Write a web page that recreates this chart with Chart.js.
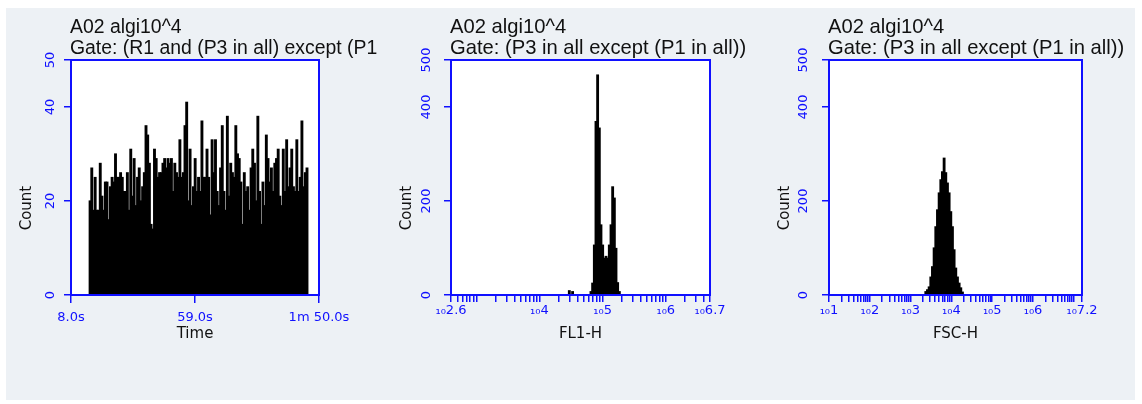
<!DOCTYPE html>
<html>
<head>
<meta charset="utf-8">
<script src="https://cdn.jsdelivr.net/npm/chart.js@4.4.1/dist/chart.umd.min.js"></script>
<style>
body { margin: 0; background: #fff; width: 1142px; height: 404px; position: relative; overflow: hidden; }
#panel { position: absolute; left: 6px; top: 8px; width: 1129px; height: 392px; background: #edf1f5; }
canvas { position: absolute; top: 0; }
</style>
</head>
<body>
<div id="panel">
  <canvas id="c1" width="379" height="392" style="left:0px"></canvas>
  <canvas id="c2" width="378" height="392" style="left:380px"></canvas>
  <canvas id="c3" width="371" height="392" style="left:758px"></canvas>
</div>
<script>
// 时间直方图 (s)
var timeBinStart = 15.5;
var timeBinWidth = 0.697;
var timeCounts = [
    20, 27, 18, 25, 18, 18, 28, 21, 18, 24, 24, 16, 23, 25, 24, 30, 25, 25, 26, 25,
    22, 22, 26, 18, 31, 21, 29, 19, 25, 27, 20, 23, 26, 36, 34, 28, 15, 14, 31, 29,
    25, 26, 26,
    28, 29, 27, 29, 28, 29, 22, 28, 26, 25, 33, 25, 26, 36, 41, 20, 31, 19, 23, 29,
    22, 25, 22, 37, 25, 25, 31, 25, 17, 33, 26, 33, 22, 19, 27, 36, 22, 18, 38, 21,
    28, 26, 25,
    36, 30, 29, 24, 15, 26, 22, 23, 18, 27, 31, 28, 20, 38, 22, 15, 24, 19, 34, 29,
    24, 27, 22, 28, 29, 31, 21, 19, 31, 22, 33, 23, 27, 31, 23, 22, 33, 22, 25, 37,
    23, 26, 27
];
var timeTicks = [8, 59, 110];
var countTicks1 = [0, 20, 40, 50];

// FL1-H (log10)
var fl1Bins = [4.473, 4.525, 4.816, 4.842, 4.869, 4.895, 4.921, 4.948, 4.974, 5.001,
    5.027, 5.054, 5.080, 5.106, 5.133, 5.159, 5.186, 5.212, 5.238, 5.265];
var fl1Counts = [9, 7, 7, 25, 106, 369, 468, 355, 149, 106, 78, 82, 78, 106, 149, 230, 206, 99, 26, 7];
var fl1Labels = [2.6, 4, 5, 6, 6.7];

// FSC-H (log10)
var fscBins = [3.372, 3.413, 3.454, 3.495, 3.535, 3.576, 3.617, 3.658, 3.699, 3.740, 3.780, 3.821,
    3.862, 3.903, 3.944, 3.985, 4.025, 4.066, 4.107, 4.148, 4.189, 4.230, 4.270];
var fscCounts = [7, 11, 17, 38, 60, 100, 145, 181, 217, 245, 262, 291, 260, 238, 217, 177, 145, 96, 57, 38, 25, 15, 6];
var fscLabels = [1, 2, 3, 4, 5, 6, 7.2];

var countTicks = [0, 200, 400, 500];

var BLUE = '#1010ff';
var TICK_FONT = { family: 'DejaVu Sans', size: 13 };

//边框, 标题, Count
var framePlugin = {
    id: 'frame',
    beforeDraw: function (chart) {
        var a = chart.chartArea, ctx = chart.ctx;
        ctx.save();
        ctx.fillStyle = '#fff';
        ctx.fillRect(a.left, a.top, a.right - a.left, a.bottom - a.top);
        ctx.restore();
    },
    afterDraw: function (chart, args, opts) {
        var a = chart.chartArea, ctx = chart.ctx;
        ctx.save();
        ctx.strokeStyle = BLUE;
        ctx.lineWidth = 2;
        ctx.strokeRect(a.left, a.top, a.right - a.left, a.bottom - a.top);

        ctx.fillStyle = '#111';
        ctx.font = opts.titleSize + 'px "Liberation Sans", Arial, sans-serif';
        ctx.textAlign = 'left';
        ctx.textBaseline = 'alphabetic';
        for (var i = 0; i < opts.lines.length; i++) {
            ctx.fillText(opts.lines[i], a.left - 1, 25 + i * 21);
        }

        ctx.translate(a.left - 44, a.top + 0.63 * (a.bottom - a.top));
        ctx.rotate(-Math.PI / 2);
        ctx.font = '15px "DejaVu Sans", sans-serif';
        ctx.textAlign = 'center';
        ctx.textBaseline = 'middle';
        ctx.fillText('Count', 0, 0);
        ctx.restore();
    }
};

function fmtTime(v) {
    if (v < 60) return v.toFixed(1) + 's';
    var m = Math.floor(v / 60);
    return m + 'm ' + (v - m * 60).toFixed(1) + 's';
}

//对数刻度
function logTicks(min, max) {
    var ticks = [{ value: min }];
    for (var d = Math.floor(min); d < max; d++) {
        for (var k = 1; k < 10; k++) {
            var v = d + Math.log10(k);
            if (v > min + 0.01 && v < max - 0.01) ticks.push({ value: v });
        }
    }
    ticks.push({ value: max });
    return ticks;
}

function logLabel(labels) {
    return function (value) {
        for (var i = 0; i < labels.length; i++) {
            if (Math.abs(labels[i] - value) < 1e-6) return '\u2081\u2080' + labels[i];
        }
        return '';
    };
}

function yScale(max, ticks, pad) {
    return {
        type: 'linear',
        min: 0,
        max: max,
        afterBuildTicks: function (s) { s.ticks = ticks.map(function (v) { return { value: v }; }); },
        afterFit: function (s) { s.width = 65; },
        border: { display: false },
        grid: { drawOnChartArea: false, tickLength: 7, color: BLUE, lineWidth: 1.5 },
        ticks: {
            color: BLUE, font: TICK_FONT, minRotation: 90, maxRotation: 90,
            crossAlign: 'center', padding: pad, autoSkip: false
        }
    };
}

function xScale(min, max, buildTicks, tickLen, pad, cb, title) {
    return {
        type: 'linear', min: min, max: max, offset: false,
        afterBuildTicks: buildTicks,
        afterFit: function (s) { s.height = 50; },
        border: { display: false },
        grid: { offset: false, drawOnChartArea: false, tickLength: tickLen, color: BLUE, lineWidth: 1.5 },
        ticks: { color: BLUE, font: TICK_FONT, padding: pad, maxRotation: 0, autoSkip: false, callback: cb },
        title: {
            display: true, text: title, color: '#111',
            font: { family: 'DejaVu Sans', size: 15 },
            padding: { top: 0, bottom: 2 }
        }
    };
}

function makeChart(id, points, xOpts, yOpts, lines, titleSize, padRight) {
    return new Chart(document.getElementById(id), {
        type: 'bar',
        data: {
            datasets: [{
                data: points,
                backgroundColor: '#000',
                borderWidth: 0,
                inflateAmount: 0.6,
                barPercentage: 1,
                categoryPercentage: 1
            }]
        },
        options: {
            responsive: false,
            animation: false,
            layout: { padding: { top: 52, left: 0, right: padRight, bottom: 55 } },
            scales: { x: xOpts, y: yOpts },
            plugins: {
                legend: { display: false },
                tooltip: { enabled: false },
                frame: { lines: lines, titleSize: titleSize }
            }
        },
        plugins: [framePlugin]
    });
}

// 时间
var timePoints = timeCounts.map(function (c, i) {
    return { x: timeBinStart + (i + 0.5) * timeBinWidth, y: c };
});
makeChart('c1', timePoints,
    xScale(8, 110, function (s) { s.ticks = timeTicks.map(function (v) { return { value: v }; }); },
        8, 7, fmtTime, 'Time'),
    yScale(50, countTicks1, 5.5),
    ['A02 algi10^4', 'Gate: (R1 and (P3 in all) except (P1'], 19.4, 66);

// FL1-H
var fl1Points = fl1Counts.map(function (c, i) { return { x: fl1Bins[i], y: c }; });
makeChart('c2', fl1Points,
    xScale(2.6, 6.7, function (s) { s.ticks = logTicks(2.6, 6.7); }, 7, 1, logLabel(fl1Labels), 'FL1-H'),
    yScale(500, countTicks, 4.5),
    ['A02 algi10^4', 'Gate: (P3 in all except (P1 in all))'], 20.2, 54);

// FSC-H
var fscPoints = fscCounts.map(function (c, i) { return { x: fscBins[i], y: c }; });
makeChart('c3', fscPoints,
    xScale(1, 7.2, function (s) { s.ticks = logTicks(1, 7.2); }, 7, 1, logLabel(fscLabels), 'FSC-H'),
    yScale(500, countTicks, 5.5),
    ['A02 algi10^4', 'Gate: (P3 in all except (P1 in all))'], 20.2, 53);
</script>
</body>
</html>
